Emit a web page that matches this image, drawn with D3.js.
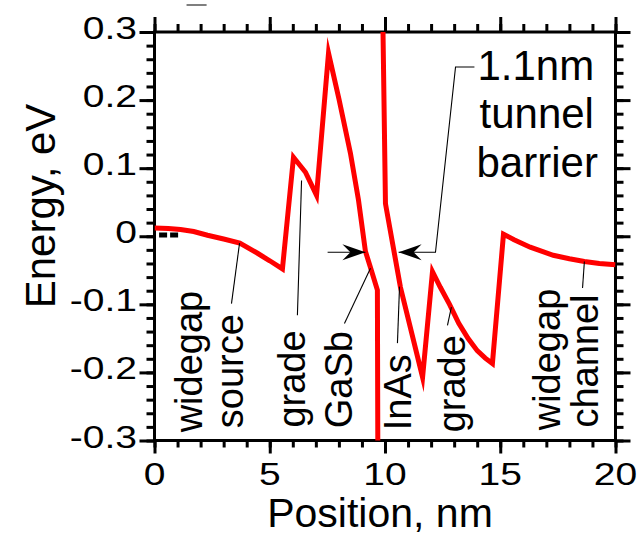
<!DOCTYPE html>
<html>
<head>
<meta charset="utf-8">
<script src="https://cdn.jsdelivr.net/npm/d3@7"></script>
<style>
  html, body { margin: 0; padding: 0; background: #fff; }
  svg { display: block; }
  text { font-family: "Liberation Sans", Arial, Helvetica, sans-serif; fill: #000; }
</style>
</head>
<body>
<svg id="chart" width="642" height="537"></svg>
<script>
// Conduction-band edge profile along the device (nm, eV); null splits the two branches
const positionNm = [0, 0.6, 1.13, 1.7, 2.3, 3.0, 3.7, 4.47, 5.0, 5.55, 6.03, 6.55, 7.03, 7.55, 8.0, 8.5, 8.85, 9.15, 9.37, 9.67, 9.7,
                    null,
                    9.85, 10.02, 10.67, 11.63, 12.06, 12.4, 12.8, 13.2, 13.6, 14.0, 14.35, 14.66, 15.14, 15.6, 16.3, 17.3, 18.0, 18.65, 19.3, 20];
const energyEv   = [0.012, 0.0115, 0.010, 0.007, 0.0015, -0.004, -0.010, -0.025, -0.036, -0.048, 0.116, 0.094, 0.060, 0.269, 0.202, 0.122, 0.053, -0.022, -0.046, -0.079, -0.45,
                    null,
                    0.45, 0.048, -0.075, -0.207, -0.052, -0.075, -0.100, -0.128, -0.150, -0.168, -0.179, -0.187, 0.003, -0.005, -0.016, -0.028, -0.033, -0.037, -0.040, -0.042];

// Short dashed reference level near the source contact
const refLevelNm = [0.2, 1.05];
const refLevelEv = 0.002;

// Axis ticks
const xMajorTicks = [0, 5, 10, 15, 20];
const xTickLabels = ["0", "5", "10", "15", "20"];
const xMinorTicks = d3.range(0, 21, 1);
const yMajorTicks = [0.3, 0.2, 0.1, 0, -0.1, -0.2, -0.3];
const yTickLabels = ["0.3", "0.2", "0.1", "0", "-0.1", "-0.2", "-0.3"];
const yMinorTicks = d3.range(-15, 16).map(i => i * 0.02);

// Region labels (rotated), their leader lines, and the barrier-width callout
const regionLabels = ["widegap", "source", "grade", "GaSb", "InAs", "grade", "widegap", "channel"];
const regionLabelNm = [2.04, 3.82, 6.55, 8.59, 11.11, 13.49, 17.61, 19.22];
const regionLabelEv = [-0.288, -0.282, -0.281, -0.282, -0.285, -0.288, -0.285, -0.281];
const leaderFromNm = [3.69, 6.38, 9.37, 10.63, 12.88, 18.65];
const leaderFromEv = [-0.010, 0.082, -0.047, -0.074, -0.104, -0.037];
const leaderToNm   = [3.34, 6.20, 8.24, 10.54, 12.71, 18.57];
const leaderToEv   = [-0.099, -0.116, -0.128, -0.157, -0.131, -0.076];

const barrierLines = ["1.1nm", "tunnel", "barrier"];
const barrierLineNm = [14.01, 14.10, 13.97];
const barrierLineEv = [0.2294, 0.1588, 0.0868];
const leftArrowNm = [7.51, 9.15];
const arrowEv = -0.0235;
const rightArrowNm = [13.88, 13.06, 12.19, 10.59];
const rightArrowEv = [0.2485, 0.2485, -0.0235, -0.0235];

const svg = d3.select("#chart");
const x = d3.scaleLinear().domain([0, 20]).range([154.5, 615.5]);
const y = d3.scaleLinear().domain([-0.3, 0.3]).range([440.5, 32]);
const [x0, x1] = x.range();
const [yb, yt] = y.range();

svg.append("defs").append("clipPath").attr("id", "plotClip")
  .append("rect").attr("x", x0).attr("y", yt).attr("width", x1 - x0).attr("height", yb - yt);

// Ticks on all four sides, pointing outward
function tickAxis(axisFn, scale, values, size, transform) {
  const g = svg.append("g").attr("transform", transform)
    .call(axisFn(scale).tickValues(values).tickSize(size).tickSizeOuter(0).tickFormat(""));
  g.select(".domain").remove();
  g.selectAll(".tick line").attr("stroke", "#000").attr("stroke-width", 3);
  g.selectAll(".tick text").remove();
}
tickAxis(d3.axisBottom, x, xMinorTicks, 7, `translate(0,${yb})`);
tickAxis(d3.axisBottom, x, xMajorTicks, 13, `translate(0,${yb})`);
tickAxis(d3.axisTop, x, xMinorTicks, 8, `translate(0,${yt})`);
tickAxis(d3.axisTop, x, xMajorTicks, 15, `translate(0,${yt})`);
tickAxis(d3.axisLeft, y, yMinorTicks, 8, `translate(${x0},0)`);
tickAxis(d3.axisLeft, y, yMajorTicks, 15, `translate(${x0},0)`);
tickAxis(d3.axisRight, y, yMinorTicks, 8, `translate(${x1},0)`);
tickAxis(d3.axisRight, y, yMajorTicks, 15, `translate(${x1},0)`);

// Frame
svg.append("rect").attr("x", x0).attr("y", yt).attr("width", x1 - x0).attr("height", yb - yt)
  .attr("fill", "none").attr("stroke", "#000").attr("stroke-width", 3);

// Tick labels (slightly wide lettering)
const tickStretch = 1.22;
svg.append("g").selectAll("text").data(xMajorTicks).join("text")
  .attr("transform", d => `translate(${x(d)},485) scale(${tickStretch},1)`)
  .attr("text-anchor", "middle").attr("font-size", 32)
  .text((d, i) => xTickLabels[i]);
svg.append("g").selectAll("text").data(yMajorTicks).join("text")
  .attr("transform", d => `translate(137,${y(d) + 7}) scale(${tickStretch},1)`)
  .attr("text-anchor", "end").attr("font-size", 32)
  .text((d, i) => yTickLabels[i]);

// Axis titles
svg.append("text").attr("x", 380).attr("y", 527).attr("text-anchor", "middle")
  .attr("font-size", 41).text("Position, nm");
svg.append("text").attr("transform", "translate(55,206) rotate(-90)").attr("text-anchor", "middle")
  .attr("font-size", 42).text("Energy, eV");

// Band profile
const pts = positionNm.map((p, i) => ({ p, e: energyEv[i] }));
const line = d3.line().defined(d => d.p != null && d.e != null).x(d => x(d.p)).y(d => y(d.e));
svg.append("path").datum(pts).attr("clip-path", "url(#plotClip)")
  .attr("d", line).attr("fill", "none").attr("stroke", "#ff0000")
  .attr("stroke-width", 5).attr("stroke-linejoin", "miter").attr("stroke-miterlimit", 10);

// Dashed reference level
svg.append("line")
  .attr("x1", x(refLevelNm[0])).attr("x2", x(refLevelNm[1]))
  .attr("y1", y(refLevelEv)).attr("y2", y(refLevelEv))
  .attr("stroke", "#000").attr("stroke-width", 5).attr("stroke-dasharray", "8,3");

// Leader lines
svg.append("g").selectAll("line").data(leaderFromNm).join("line")
  .attr("x1", (d, i) => x(d)).attr("y1", (d, i) => y(leaderFromEv[i]))
  .attr("x2", (d, i) => x(leaderToNm[i])).attr("y2", (d, i) => y(leaderToEv[i]))
  .attr("stroke", "#000").attr("stroke-width", 1.1);

// Region labels
svg.append("g").selectAll("text").data(regionLabels).join("text")
  .attr("transform", (d, i) => `translate(${x(regionLabelNm[i])},${y(regionLabelEv[i])}) rotate(-90)`)
  .attr("text-anchor", "start").attr("font-size", 38)
  .text(d => d);

// Barrier width arrows
function arrowHead(tipX, tipY, dir) {
  const L = 23, W = 8, N = 15;
  const p = [[tipX, tipY], [tipX - dir * L, tipY - W], [tipX - dir * N, tipY], [tipX - dir * L, tipY + W]];
  svg.append("path").attr("d", "M" + p.map(q => q.join(",")).join("L") + "Z").attr("fill", "#000");
}
svg.append("line")
  .attr("x1", x(leftArrowNm[0])).attr("x2", x(leftArrowNm[1]))
  .attr("y1", y(arrowEv)).attr("y2", y(arrowEv))
  .attr("stroke", "#000").attr("stroke-width", 1.1);
arrowHead(x(leftArrowNm[1]), y(arrowEv), 1);

svg.append("path")
  .attr("d", d3.line()(rightArrowNm.map((d, i) => [x(d), y(rightArrowEv[i])])))
  .attr("fill", "none").attr("stroke", "#000").attr("stroke-width", 1.1);
arrowHead(x(rightArrowNm[3]), y(rightArrowEv[3]), -1);

// Callout text
svg.append("g").selectAll("text").data(barrierLines).join("text")
  .attr("x", (d, i) => x(barrierLineNm[i])).attr("y", (d, i) => y(barrierLineEv[i]))
  .attr("font-size", 42).text(d => d);

// Small grey mark above the frame
svg.append("line").attr("x1", x(1.39)).attr("x2", x(2.26)).attr("y1", 5).attr("y2", 5)
  .attr("stroke", "#555").attr("stroke-width", 1.5);
</script>
</body>
</html>
